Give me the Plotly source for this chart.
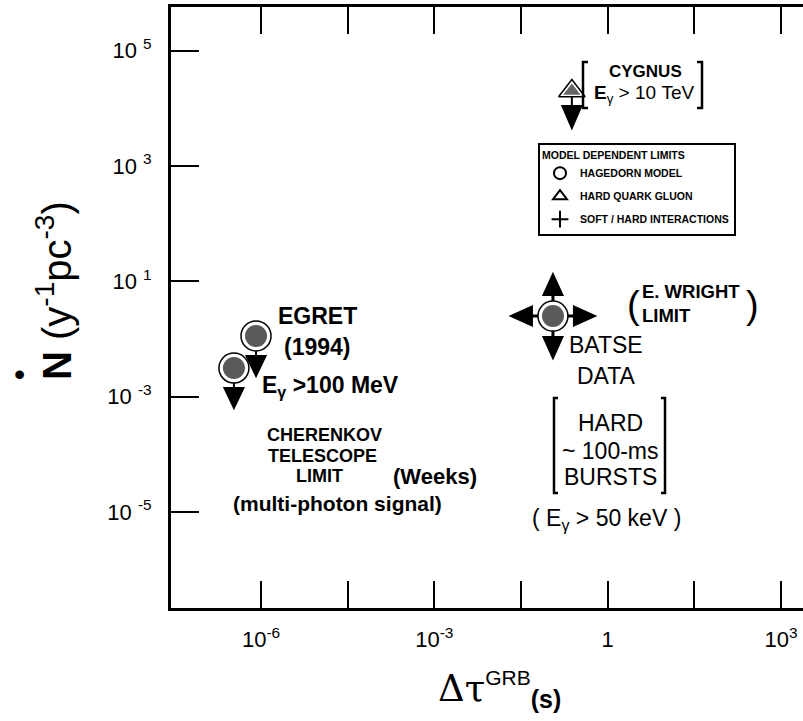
import plotly.graph_objects as go

# ---------------- data ----------------
# Hagedorn-model limits (circles): EGRET (two points) and BATSE
hagedorn_x = [8.2e-7, 3.4e-7, 0.113]
hagedorn_y = [1.13, 0.314, 2.5]
# Hard quark-gluon limit (triangle): CYGNUS
quark_x = [0.24]
quark_y = [2.0e4]
# Soft / hard interaction limit (4-way arrows): BATSE
softhard_x = [0.113]
softhard_y = [2.5]
# upper-limit (down) arrows attached to EGRET points
egret_lim_x = [8.2e-7, 3.4e-7]
egret_lim_y = [1.13, 0.314]

x_tickvals = [1e-6, 1e-3, 1, 1e3]
x_ticktext = ["10<sup>-6</sup>", "10<sup>-3</sup>", "1", "10<sup>3</sup>"]
x_minorvals = [10**-4.5, 10**-1.5, 10**1.5]
y_tickvals = [1e5, 1e3, 1e1, 1e-1, 1e-3]
y_ticktext = ["10 <sup>5</sup>", "10 <sup>3</sup>", "10 <sup>1</sup>", "10 <sup>-3</sup>", "10 <sup>-5</sup>"]

# ---------------- layout geometry ----------------
L, T, W, H = 171, 7, 632, 601
FIG_W, FIG_H = 803, 721
X_RANGE = [-7.558, 3.381]
Y_RANGE = [-4.665, 5.758]
SANS = "Liberation Sans, Arial, sans-serif"
SERIF = "DejaVu Serif, Liberation Serif, serif"


def px(x):
    return (x - L) / W


def py(y):
    return (T + H - y) / H


fig = go.Figure()

# cross stems of the soft/hard interaction symbol
fig.add_trace(go.Scatter(
    x=softhard_x, y=softhard_y, mode="markers", name="SOFT / HARD INTERACTIONS",
    legendgroup="c", legendrank=3,
    marker=dict(symbol="cross-thin", size=46, line=dict(color="black", width=3), color="black"),
    hoverinfo="skip"))
# circles (outer ring + inner stipple)
fig.add_trace(go.Scatter(
    x=hagedorn_x, y=hagedorn_y, mode="markers", name="HAGEDORN MODEL",
    legendgroup="a", legendrank=1,
    marker=dict(symbol="circle", size=30, color="white", line=dict(color="black", width=1.5)),
    hoverinfo="skip"))
fig.add_trace(go.Scatter(
    x=hagedorn_x, y=hagedorn_y, mode="markers", showlegend=False, legendgroup="a",
    marker=dict(symbol="circle", size=22, color="#5a5a5a", line=dict(width=0)),
    hoverinfo="skip"))
# triangle
fig.add_trace(go.Scatter(
    x=quark_x, y=quark_y, mode="markers", name="HARD QUARK GLUON",
    legendgroup="b", legendrank=2,
    marker=dict(symbol="triangle-up", size=23, color="white", line=dict(color="black", width=1.5)),
    hoverinfo="skip"))
fig.add_trace(go.Scatter(
    x=quark_x, y=quark_y, mode="markers", showlegend=False, legendgroup="b",
    marker=dict(symbol="triangle-up", size=15, color="#666666", line=dict(width=0)),
    hoverinfo="skip"))


def arrow_path(dx, dy, start, base, tip, hw):
    qx, qy = -dy, dx
    p = ""
    if base > start:
        p += f"M{dx*start:.1f},{dy*start:.1f} L{dx*base:.1f},{dy*base:.1f} "
    bx, by = dx * base, dy * base
    p += (f"M{bx+qx*hw:.1f},{by+qy*hw:.1f} L{bx-qx*hw:.1f},{by-qy*hw:.1f} "
          f"L{dx*tip:.1f},{dy*tip:.1f} Z")
    return p


shapes = []


def add_arrow(xv, yv, d, start, base, tip, hw=9.5):
    shapes.append(dict(type="path", xref="x", yref="y", xsizemode="pixel", ysizemode="pixel",
                       xanchor=xv, yanchor=yv, path=arrow_path(d[0], d[1], start, base, tip, hw),
                       fillcolor="black", line=dict(color="black", width=2), layer="above"))


for xv, yv in zip(egret_lim_x, egret_lim_y):
    add_arrow(xv, yv, (0, -1), 15, 20, 40)
for xv, yv in zip(quark_x, quark_y):
    add_arrow(xv, yv, (0, -1), 6, 15, 37)
for xv, yv in zip(softhard_x, softhard_y):
    for d in [(0, 1), (0, -1), (-1, 0), (1, 0)]:
        add_arrow(xv, yv, d, 21, 21, 42)


# brackets (decoration, in page pixels)
def bracket(x, y0, y1, hook):
    shapes.append(dict(type="path", xref="paper", yref="paper",
                       path=f"M{px(x+hook)},{py(y0)} L{px(x)},{py(y0)} L{px(x)},{py(y1)} L{px(x+hook)},{py(y1)}",
                       line=dict(color="black", width=2.5), layer="above"))


bracket(583, 62, 108, 5)
bracket(702, 62, 108, -5)
bracket(554, 398, 493, 4)
bracket(665, 398, 493, -4)

annotations = []


def txt(x, y, text, size, bold=False, xanchor="center", yanchor="middle", family=SANS, angle=0, align="center"):
    annotations.append(dict(xref="paper", yref="paper", x=px(x), y=py(y), text=text, showarrow=False,
                            xanchor=xanchor, yanchor=yanchor, textangle=angle, align=align,
                            font=dict(family=family, size=size, color="black",
                                      weight="bold" if bold else "normal")))


txt(317, 316, "EGRET", 23, True)
txt(317, 347, "(1994)", 23, True)
txt(330, 386, "E<sub>γ</sub> >100 MeV", 23, True)
txt(324, 435, "CHERENKOV", 18, True)
txt(322, 456, "TELESCOPE", 18, True)
txt(319, 476, "LIMIT", 18, True)
txt(435, 476, "(Weeks)", 22, True)
txt(337, 504, "(multi-photon signal)", 21, True)
txt(645, 71, "CYGNUS", 17, True)
txt(644, 94, "<b>E</b><sub>γ</sub> > 10 TeV", 19, False)
txt(640, 303, "E. WRIGHT<br>LIMIT", 18.5, True, xanchor="left", align="left")
txt(633, 305, "(", 38, False)
txt(752, 305, ")", 38, False)
txt(606, 345, "BATSE", 23)
txt(606, 376, "DATA", 23)
txt(610, 423, "HARD", 23)
txt(610, 451, "~ 100-ms", 23)
txt(610, 477, "BURSTS", 23)
txt(606, 519, "( E<sub>γ</sub> > 50 keV )", 23)

# axis titles
txt(54, 291, "<b>N</b> (y<sup>-1</sup>pc<sup>-3</sup>)", 40, angle=-90)
txt(19, 374, "•", 32)
annotations.append(dict(
    xref="paper", yref="paper", x=px(436), y=py(690), xanchor="left", yanchor="middle", showarrow=False,
    text=("Δτ<sup><span style=\"font-family:Liberation Sans;font-size:21px\">GRB</span></sup>"
          "<sub><span style=\"font-family:Liberation Sans;font-weight:bold;font-size:25px\">(s)</span></sub>"),
    font=dict(family=SERIF, size=37, color="black")))

fig.update_layout(
    width=FIG_W, height=FIG_H,
    margin=dict(l=L, r=FIG_W - L - W, t=T, b=FIG_H - T - H, pad=0),
    paper_bgcolor="white", plot_bgcolor="white",
    showlegend=True,
    legend=dict(x=px(538), y=py(143), xanchor="left", yanchor="top",
                bordercolor="black", borderwidth=2, bgcolor="white",
                font=dict(family=SANS, size=10.5, color="black", weight="bold"),
                title=dict(text="MODEL DEPENDENT LIMITS", font=dict(family=SANS, size=10.5, weight="bold")),
                itemsizing="constant", tracegroupgap=4),
    shapes=shapes, annotations=annotations,
    font=dict(family=SANS, color="black"),
    yaxis2=dict(overlaying="y", side="right", type="log", range=Y_RANGE, autorange=False,
                tickvals=y_tickvals, ticks="inside", ticklen=26, tickwidth=2, tickcolor="black",
                showticklabels=False, showline=False, showgrid=False, zeroline=False),
)
fig.update_xaxes(type="log", range=X_RANGE, tickvals=x_tickvals, ticktext=x_ticktext,
                 ticks="inside", ticklen=27, tickwidth=2, tickcolor="black",
                 minor=dict(tickvals=x_minorvals, ticks="inside", ticklen=27, tickwidth=2,
                            tickcolor="black", showgrid=False),
                 showline=True, linewidth=2.5, linecolor="black", mirror="ticks",
                 showgrid=False, zeroline=False, ticklabelstandoff=10,
                 tickfont=dict(family=SANS, size=22, color="black"))
fig.layout.yaxis.update(type="log", range=Y_RANGE, tickvals=y_tickvals, ticktext=y_ticktext,
                        ticks="inside", ticklen=28, tickwidth=2, tickcolor="black",
                        showline=True, linewidth=3, linecolor="black", mirror=False,
                        showgrid=False, zeroline=False, ticklabelstandoff=12,
                        tickfont=dict(family=SANS, size=22, color="black"))

fig.write_html("out.html")
